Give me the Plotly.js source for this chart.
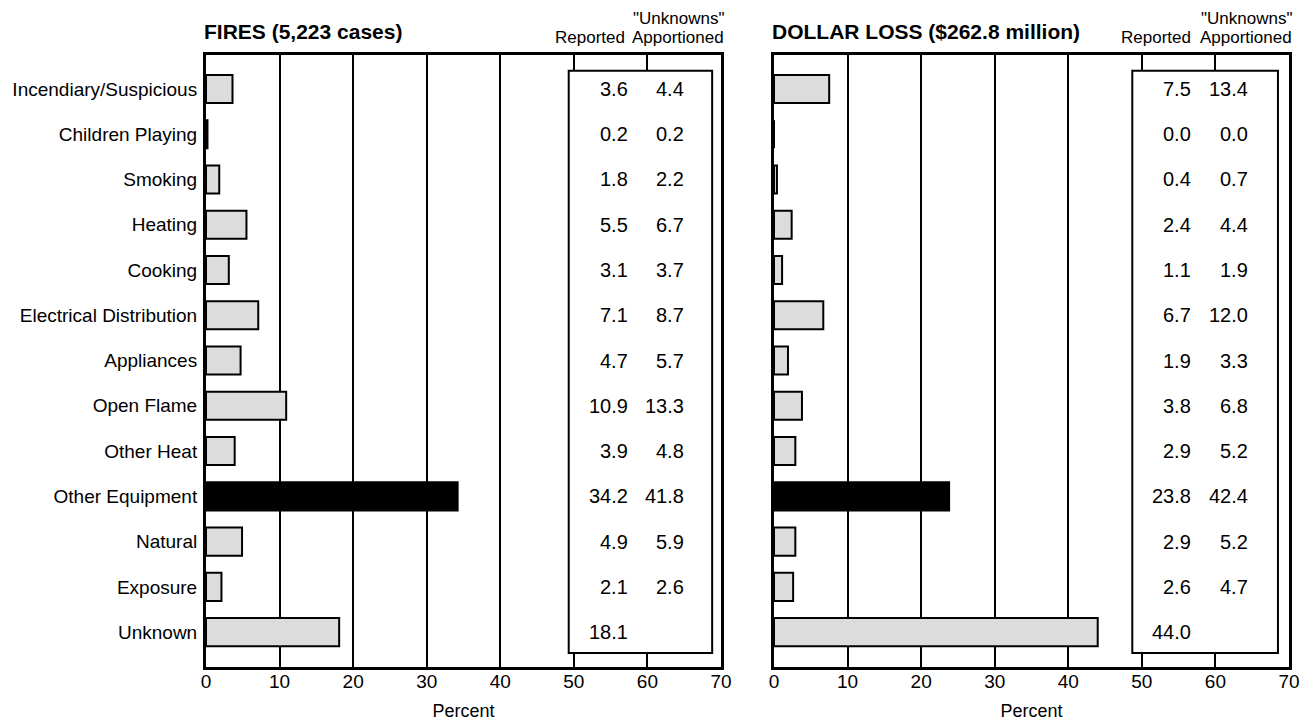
<!DOCTYPE html>
<html>
<head>
<meta charset="utf-8">
<script src="https://cdn.plot.ly/plotly-3.0.1.min.js"></script>
<style>html,body{margin:0;padding:0;background:#fff}#chart{width:1303px;height:721px}</style>
</head>
<body>
<div id="chart"></div>
<script>
const categories = ["Incendiary/Suspicious","Children Playing","Smoking","Heating","Cooking","Electrical Distribution","Appliances","Open Flame","Other Heat","Other Equipment","Natural","Exposure","Unknown"];
const firesReported = [3.6,0.2,1.8,5.5,3.1,7.1,4.7,10.9,3.9,34.2,4.9,2.1,18.1];
const firesApportioned = [4.4,0.2,2.2,6.7,3.7,8.7,5.7,13.3,4.8,41.8,5.9,2.6,null];
const lossReported = [7.5,0.0,0.4,2.4,1.1,6.7,1.9,3.8,2.9,23.8,2.9,2.6,44.0];
const lossApportioned = [13.4,0.0,0.7,4.4,1.9,12.0,3.3,6.8,5.2,42.4,5.2,4.7,null];
const highlight = "Other Equipment";
const xTicks = [0,10,20,30,40,50,60,70];
const titleFires = "FIRES (5,223 cases)";
const titleLoss = "DOLLAR LOSS ($262.8 million)";

const W = 1303, H = 721;
const py = p => (H - p) / H;
const FONT = "Liberation Sans, Arial, sans-serif";

const barColors = categories.map(c => c === highlight ? "#000" : "#dcdcdc");

const traces = [
  {type:"bar", orientation:"h", y:categories, x:firesReported, xaxis:"x", yaxis:"y",
   width:0.62, marker:{color:barColors, line:{color:"#000", width:2}}, hoverinfo:"x+y"},
  {type:"bar", orientation:"h", y:categories, x:lossReported, xaxis:"x2", yaxis:"y2",
   width:0.62, marker:{color:barColors, line:{color:"#000", width:2}}, hoverinfo:"x+y"}
];

const yRange = [12.77, -0.75];
const xCommon = {
  range:[0,70], autorange:false, tickvals:xTicks, ticks:"", showgrid:true, gridcolor:"#000", gridwidth:2,
  zeroline:false, showline:true, linecolor:"#000", linewidth:3, mirror:true,
  tickfont:{family:FONT, size:19, color:"#000"}, ticklabelstandoff:-5,
  title:{text:"Percent", font:{family:FONT, size:18, color:"#000"}, standoff:14}
};
const yCommon = {
  type:"category", categoryarray:categories, categoryorder:"array", range:yRange, autorange:false,
  showgrid:false, zeroline:false, showline:true, linecolor:"#000", linewidth:3, mirror:true, ticks:""
};

const annotations = [];
const shapes = [];
function panel(xa, ya, rep, app, repX, appX, boxX0, boxX1, title, headShift) {
  shapes.push({type:"rect", xref:xa, yref:ya, x0:boxX0, x1:boxX1, y0:-0.40, y1:12.46,
    fillcolor:"#fff", line:{color:"#000", width:2}, layer:"above"});
  categories.forEach((c,i) => {
    if (rep[i] !== null) annotations.push({xref:xa, yref:ya, x:repX, y:c, text:rep[i].toFixed(1),
      xanchor:"right", yanchor:"middle", showarrow:false, font:{family:FONT, size:20, color:"#000"}});
    if (app[i] !== null) annotations.push({xref:xa, yref:ya, x:appX, y:c, text:app[i].toFixed(1),
      xanchor:"right", yanchor:"middle", showarrow:false, font:{family:FONT, size:20, color:"#000"}});
  });
  annotations.push({xref:xa+" domain", yref:"paper", x:0, xshift:-4, y:py(32), text:"<b>"+title+"</b>",
    xanchor:"left", yanchor:"middle", showarrow:false, font:{family:FONT, size:21, color:"#000"}});
  annotations.push({xref:xa, yref:"paper", x:repX, xshift:headShift, y:py(38), text:"Reported",
    xanchor:"right", yanchor:"middle", showarrow:false, font:{family:FONT, size:17, color:"#000"}});
  annotations.push({xref:xa+" domain", yref:"paper", x:1, xshift:5, y:py(38), text:"Apportioned",
    xanchor:"right", yanchor:"middle", showarrow:false, font:{family:FONT, size:17, color:"#000"}});
  annotations.push({xref:xa+" domain", yref:"paper", x:1, xshift:5, y:py(19), text:"\"Unknowns\"",
    xanchor:"right", yanchor:"middle", showarrow:false, font:{family:FONT, size:17, color:"#000"}});
}
panel("x","y", firesReported, firesApportioned, 57.6, 65.2, 49.3, 68.8, titleFires, -3);
panel("x2","y2", lossReported, lossApportioned, 57.0, 64.7, 48.7, 68.5, titleLoss, 0);

const layout = {
  width:W, height:H, margin:{l:0,r:0,t:0,b:0}, paper_bgcolor:"#fff", plot_bgcolor:"#fff",
  showlegend:false, bargap:0,
  xaxis:Object.assign({}, xCommon, {domain:[206/W, 721/W], anchor:"y"}),
  xaxis2:Object.assign({}, xCommon, {domain:[774/W, 1289/W], anchor:"y2"}),
  yaxis:Object.assign({}, yCommon, {domain:[py(667), py(55)], anchor:"x",
    tickfont:{family:FONT, size:19, color:"#000"}, ticklabelstandoff:2}),
  yaxis2:Object.assign({}, yCommon, {domain:[py(667), py(55)], anchor:"x2", showticklabels:false}),
  shapes:shapes, annotations:annotations
};

Plotly.newPlot("chart", traces, layout, {displayModeBar:false, staticPlot:true});
</script>
</body>
</html>
